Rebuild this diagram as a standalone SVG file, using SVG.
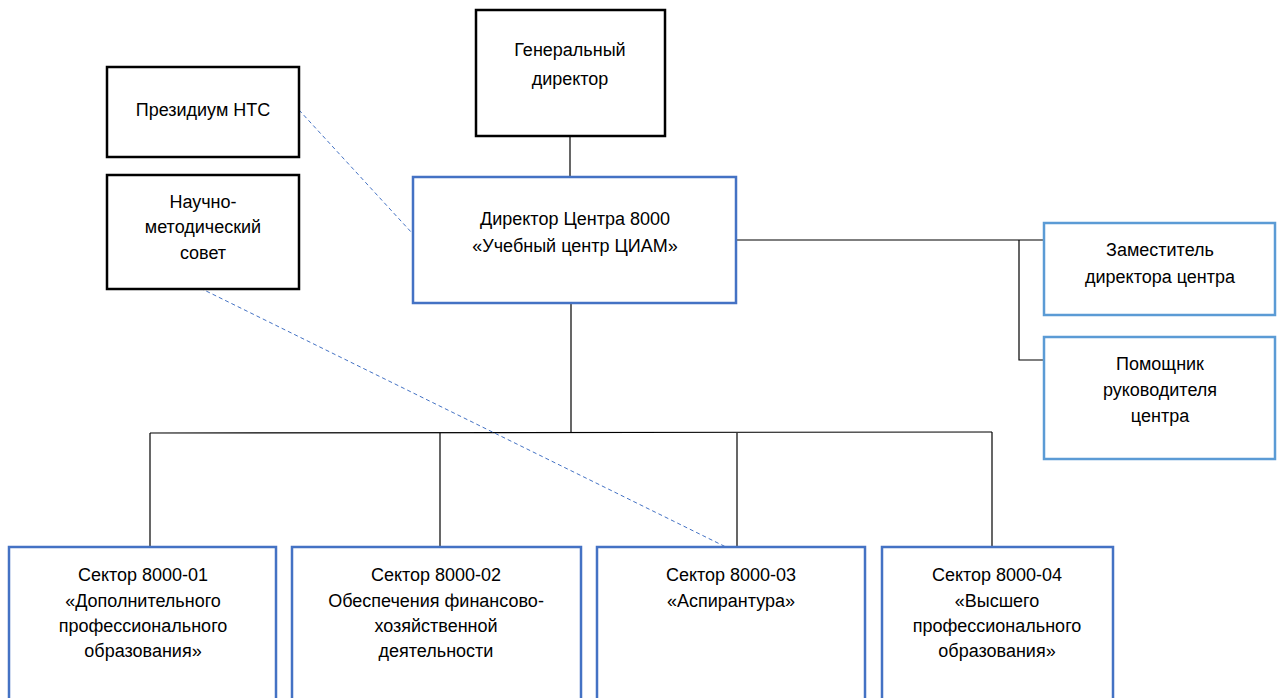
<svg xmlns="http://www.w3.org/2000/svg" width="1281" height="698" viewBox="0 0 1281 698">
<style>
.blk{fill:#fff;stroke:#000;stroke-width:2.5}
.blu{fill:#fff;stroke:#4472C4;stroke-width:2.5}
.lbl{fill:#fff;stroke:#5B9BD5;stroke-width:2.5}
.ln{fill:none;stroke:#000;stroke-width:1.2}
.ds{fill:none;stroke:#4472C4;stroke-width:1;stroke-dasharray:4 3}
text{font-family:"Liberation Sans","DejaVu Sans",sans-serif;font-size:18px;fill:#000;text-anchor:middle}
</style>
<rect width="1281" height="698" fill="#fff"/>
<g id="connectors">
<line class="ln" x1="570" y1="136" x2="570" y2="177"/>
<line class="ln" x1="571" y1="303" x2="571" y2="433"/>
<line class="ln" x1="150" y1="433" x2="992" y2="432"/>
<line class="ln" x1="150" y1="433" x2="150" y2="547"/>
<line class="ln" x1="440" y1="433" x2="440" y2="547"/>
<line class="ln" x1="737" y1="433" x2="737" y2="547"/>
<line class="ln" x1="992" y1="432" x2="992" y2="547"/>
<line class="ln" x1="737" y1="240" x2="1044" y2="240"/>
<polyline class="ln" points="1019,240 1019,360 1044,360"/>
<line class="ds" x1="299" y1="110" x2="412" y2="233"/>
<line class="ds" x1="200" y1="288" x2="726" y2="547"/>
</g>
<g id="gen-director">
<rect class="blk" x="476" y="10" width="189" height="126"/>
<text x="570" y="56">Генеральный</text>
<text x="570" y="85">директор</text>
</g>
<g id="presidium">
<rect class="blk" x="107" y="67" width="192" height="90"/>
<text x="203" y="116">Президиум НТС</text>
</g>
<g id="nm-sovet">
<rect class="blk" x="107" y="175" width="192" height="114"/>
<text x="203" y="208">Научно-</text>
<text x="203" y="233">методический</text>
<text x="203" y="259">совет</text>
</g>
<g id="director">
<rect class="blu" x="413" y="177" width="323" height="126"/>
<text x="575" y="225">Директор Центра 8000</text>
<text x="575" y="252">«Учебный центр ЦИАМ»</text>
</g>
<g id="deputy">
<rect class="lbl" x="1044" y="223" width="231" height="92"/>
<text x="1160" y="256">Заместитель</text>
<text x="1160" y="283">директора центра</text>
</g>
<g id="assistant">
<rect class="lbl" x="1044" y="337" width="231" height="122"/>
<text x="1160" y="370">Помощник</text>
<text x="1160" y="396">руководителя</text>
<text x="1160" y="422">центра</text>
</g>
<g id="sector1">
<rect class="blu" x="9" y="547" width="267" height="160"/>
<text x="143" y="581">Сектор 8000-01</text>
<text x="143" y="607">«Дополнительного</text>
<text x="143" y="632">профессионального</text>
<text x="143" y="657">образования»</text>
</g>
<g id="sector2">
<rect class="blu" x="292" y="547" width="289" height="160"/>
<text x="436" y="581">Сектор 8000-02</text>
<text x="436" y="607">Обеспечения финансово-</text>
<text x="436" y="632">хозяйственной</text>
<text x="436" y="657">деятельности</text>
</g>
<g id="sector3">
<rect class="blu" x="597" y="547" width="268" height="160"/>
<text x="731" y="581">Сектор 8000-03</text>
<text x="731" y="607">«Аспирантура»</text>
</g>
<g id="sector4">
<rect class="blu" x="882" y="547" width="231" height="160"/>
<text x="997" y="581">Сектор 8000-04</text>
<text x="997" y="607">«Высшего</text>
<text x="997" y="632">профессионального</text>
<text x="997" y="657">образования»</text>
</g>
</svg>
